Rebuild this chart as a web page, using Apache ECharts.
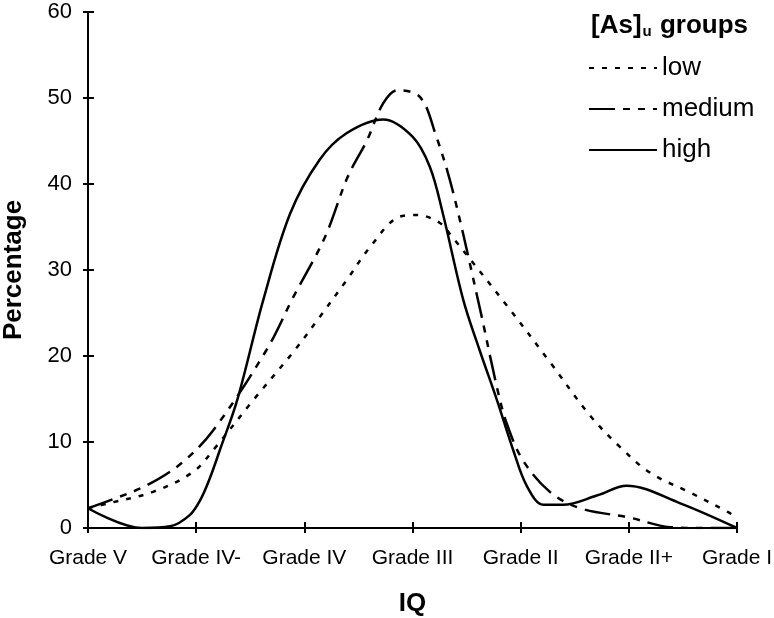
<!DOCTYPE html>
<html>
<head>
<meta charset="utf-8">
<script src="https://cdn.jsdelivr.net/npm/echarts@6/dist/echarts.min.js"></script>
<style>html,body{margin:0;padding:0;background:#fff}#c{width:774px;height:618px}</style>
</head>
<body>
<div id="c"></div>
<script>
// X categories (value-axis positions 0..6)
const categories = ['Grade V', 'Grade IV-', 'Grade IV', 'Grade III', 'Grade II', 'Grade II+', 'Grade I'];
const yMin = 0, yMax = 60, yStep = 10;
const seriesNames = ['low', 'medium', 'high'];

// [position along IQ axis, percentage]
const lowPoints = [
  [0, 2.3], [0.20, 2.9], [0.60, 4.2], [0.97, 6.5], [1.16, 9.1], [1.53, 14.9],
  [1.90, 20.5], [2.14, 24.5], [2.39, 28.8], [2.61, 32.7], [2.88, 36.2],
  [3.04, 36.4], [3.25, 35.5], [3.37, 33.8], [3.87, 25.9], [4.27, 19.3],
  [4.64, 13.1], [4.92, 9.4], [5.20, 6.4], [5.57, 4.1], [5.91, 1.9], [6, 1.2]
];
const mediumPoints = [
  [0, 2.3], [0.22, 3.3], [0.55, 5.0], [0.87, 7.6], [1.16, 11.4], [1.65, 20.7],
  [1.90, 26.9], [2.19, 33.8], [2.40, 40.8], [2.58, 45.1], [2.73, 49.4],
  [2.86, 50.9], [3.07, 50.1], [3.21, 45.9], [3.37, 39.3], [3.62, 25.7],
  [3.78, 16.4], [3.87, 12.2], [4.02, 7.9], [4.27, 4.2], [4.55, 2.3],
  [5.01, 1.2], [5.38, 0.1], [5.7, 0], [6, 0]
];
const highPoints = [
  [0, 2.3], [0.50, 0], [0.76, 0.2], [0.94, 1.5], [1.04, 3.3], [1.13, 5.9],
  [1.22, 9.1], [1.38, 14.9], [1.62, 26.5], [1.87, 36.6], [2.14, 42.8], [2.39, 45.9],
  [2.73, 47.5], [3.0, 45.5], [3.16, 42.0], [3.28, 36.6], [3.47, 26.5],
  [3.62, 20.7], [3.78, 14.9], [3.93, 9.1], [4.06, 4.8], [4.21, 2.7],
  [4.39, 2.7], [4.71, 3.8], [4.98, 4.9], [5.47, 2.9], [6, 0]
];

const FONT = 'Liberation Sans, Arial, sans-serif';
const chart = echarts.init(document.getElementById('c'));

chart.setOption({
  animation: false,
  backgroundColor: '#fff',
  textStyle: { fontFamily: FONT, color: '#000' },
  title: {
    text: '{a|[As]}{b|u}{a| groups}',
    left: 586, top: 7,
    textStyle: {
      rich: {
        a: { fontSize: 26, fontWeight: 'bold', fontFamily: FONT, color: '#000' },
        b: { fontSize: 15, fontWeight: 'bold', fontFamily: FONT, color: '#000', padding: [12, 1, 0, 1] }
      }
    }
  },
  legend: {
    orient: 'vertical',
    left: 583, top: 50,
    itemWidth: 68, itemHeight: 14, itemGap: 15,
    itemStyle: { opacity: 0 },
    textStyle: { fontSize: 26, fontFamily: FONT, color: '#000' },
    data: seriesNames
  },
  grid: { left: 88, right: 37, top: 12, bottom: 90, outerBoundsMode: 'none', containLabel: false },
  xAxis: [{
    type: 'value', min: 0, max: categories.length - 1, interval: 1,
    name: 'IQ', nameLocation: 'middle', nameGap: 63,
    nameTextStyle: { fontSize: 26, fontWeight: 'bold', fontFamily: FONT, color: '#000' },
    axisLine: { lineStyle: { color: '#000', width: 2 } },
    axisTick: { show: true, length: 5, lineStyle: { color: '#000', width: 2 } },
    axisLabel: { margin: 20, fontSize: 21, color: '#000', fontFamily: FONT,
      formatter: v => categories[Math.round(v)] },
    splitLine: { show: false }
  }, {
    type: 'value', min: 0, max: categories.length - 1, interval: 1, position: 'bottom',
    axisLine: { show: false },
    axisTick: { show: true, inside: true, length: 6, lineStyle: { color: '#000', width: 2 } },
    axisLabel: { show: false }, splitLine: { show: false }
  }],
  yAxis: [{
    type: 'value', min: yMin, max: yMax, interval: yStep,
    name: 'Percentage', nameLocation: 'middle', nameGap: 61, nameRotate: 90,
    nameTextStyle: { fontSize: 26, fontWeight: 'bold', fontFamily: FONT, color: '#000' },
    axisLine: { show: true, lineStyle: { color: '#000', width: 2 } },
    axisTick: { show: true, length: 5, lineStyle: { color: '#000', width: 2 } },
    axisLabel: { margin: 16, fontSize: 22, color: '#000', fontFamily: FONT },
    splitLine: { show: false }
  }, {
    type: 'value', min: yMin, max: yMax, interval: yStep, position: 'left',
    axisLine: { show: false },
    axisTick: { show: true, inside: true, length: 6, lineStyle: { color: '#000', width: 2 } },
    axisLabel: { show: false }, splitLine: { show: false }
  }],
  series: [
    { name: 'low', type: 'line', data: lowPoints, smooth: 0.35, symbol: 'none',
      color: '#000', lineStyle: { color: '#000', width: 2.5, type: [5, 8] } },
    { name: 'medium', type: 'line', data: mediumPoints, smooth: 0.35, symbol: 'none',
      color: '#000', lineStyle: { color: '#000', width: 2.5, type: [26, 8, 7, 8, 7, 8] } },
    { name: 'high', type: 'line', data: highPoints, smooth: 0.35, symbol: 'none',
      color: '#000', lineStyle: { color: '#000', width: 2.5, type: 'solid' } }
  ]
});
</script>
</body>
</html>
